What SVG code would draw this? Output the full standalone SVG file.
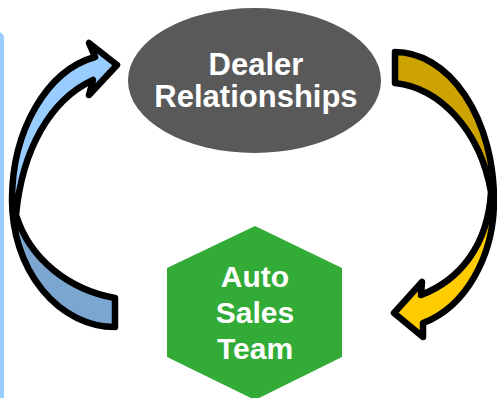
<svg xmlns="http://www.w3.org/2000/svg" width="497" height="398" viewBox="0 0 497 398">
<style>
.lbl{font-family:"Liberation Sans",Arial,sans-serif;font-weight:bold;font-size:30px;fill:#FFFFFF;text-anchor:middle}
.big{font-size:31px}
.ol{fill:none;stroke:#000000;stroke-width:6.5;stroke-linejoin:round}
</style>
<rect x="-20" y="32" width="24" height="400" rx="6" fill="#99CCFF"/>
<g id="connectors">
<g id="arrow-left">
<path d="M16,215 C22,150 50,100 93,80 L89,95 L117,65 L89,43 L95,57 A103,146 0 0 0 12,200 Z" fill="#99CCFF"/>
<path d="M12,200 A103,127 0 0 0 115,327 L115,298 C70,290 30,260 16,215 Z" fill="#7BA6D0"/>
<path class="ol" d="M115,298 C70,290 30,260 16,215 C22,150 50,100 93,80 L89,95 L117,65 L89,43 L95,57 A103,146 0 0 0 12,200 A103,127 0 0 0 115,327 Z"/>
</g>
<g id="arrow-right">
<path d="M395,52 A99,148 0 0 1 494,200 L491,192 C480,130 440,88 395,83 Z" fill="#CCA300"/>
<path d="M494,200 A99,128 0 0 1 423,323 L423,337 L394,313 L422,282 L421,295 C460,280 488,245 491,192 Z" fill="#FFCC00"/>
<path class="ol" d="M395,52 A99,148 0 0 1 494,200 A99,128 0 0 1 423,323 L423,337 L394,313 L422,282 L421,295 C460,280 488,245 491,192 C480,130 440,88 395,83 Z"/>
</g>
</g>
<g id="node-dealer">
<ellipse cx="254.5" cy="80.5" rx="126.5" ry="72.5" fill="#595959"/>
<text class="lbl big" x="256" y="75">Dealer</text>
<text class="lbl big" x="256" y="107">Relationships</text>
</g>
<g id="node-auto">
<polygon points="255,226 342,268 342,357 255,400 167,357 167,268" fill="#33AB37"/>
<text class="lbl" x="255" y="287">Auto</text>
<text class="lbl" x="255" y="323">Sales</text>
<text class="lbl" x="255" y="359">Team</text>
</g>
</svg>
